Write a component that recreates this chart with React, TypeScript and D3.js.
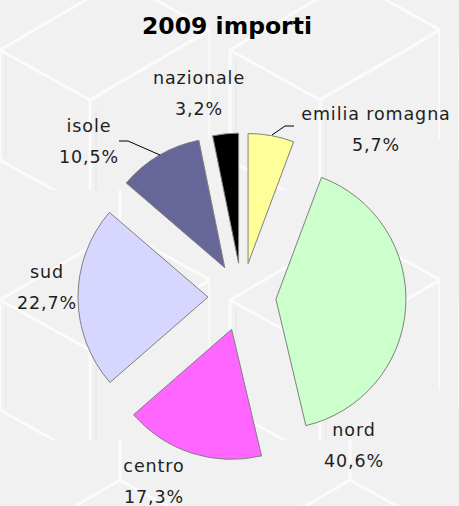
import React from "react";
import * as d3 from "d3";

const categories = ["emilia romagna", "nord", "centro", "sud", "isole", "nazionale"];
const values = [5.7, 40.6, 17.3, 22.7, 10.5, 3.2];
const percentLabels = ["5,7%", "40,6%", "17,3%", "22,7%", "10,5%", "3,2%"];
const colors = ["#FFFF99", "#CCFFCC", "#FF66FF", "#D6D6FF", "#666699", "#000000"];
const title = "2009 importi";

const W = 459, H = 506;
const cx = 242, cy = 297, R = 130, EXPLODE = 34;
// label centres (layout)
const labelPos: [number, number][] = [
  [376, 126], [354, 442], [154, 478], [47, 284], [89, 138], [199, 90],
];
// leader lines (layout)
const leaders: ([number, number][] | null)[] = [
  [[294, 126], [285, 126], [272, 135]],
  null, null, null,
  [[119, 141], [128, 141], [160, 155]],
  null,
];

export default function App() {
  const pie = d3.pie<number>().sort(null).value((d) => d).startAngle(0).endAngle(2 * Math.PI);
  const arcs = pie(values);
  const arc = d3.arc<d3.PieArcDatum<number>>().innerRadius(0).outerRadius(R);
  const font = "'DejaVu Sans', sans-serif";
  return (
    <svg width={W} height={H} style={{ position: "absolute", left: 0, top: 0 }}>
      <defs>
        <pattern id="cubes" width="230" height="250" patternUnits="userSpaceOnUse" x="-20" y="-60">
          <g fill="none" stroke="#ffffff" strokeWidth="3" strokeLinejoin="round" opacity="0.7">
            <path d="M20,110 L140,40 L230,90 L110,160 Z" />
            <path d="M20,110 L20,220 L110,270 L110,160" />
            <path d="M110,160 L230,90 L230,200" />
            <path d="M140,40 L140,-30" />
          </g>
          <g fill="none" stroke="#e4e4e4" strokeWidth="1.2" opacity="0.8">
            <path d="M26,118 L26,215" />
            <path d="M116,168 L116,262" />
          </g>
        </pattern>
      </defs>
      <rect x={0} y={0} width={W} height={H} fill="#f1f1f1" />
      <rect x={0} y={0} width={W} height={H} fill="url(#cubes)" />
      <text x={227} y={34} textAnchor="middle" fontFamily={font} fontWeight="bold" fontSize={23.5} fill="#000">
        {title}
      </text>
      {arcs.map((a, i) => {
        const mid = (a.startAngle + a.endAngle) / 2;
        const dx = Math.sin(mid) * EXPLODE;
        const dy = -Math.cos(mid) * EXPLODE;
        return (
          <path
            key={categories[i]}
            d={arc(a) || ""}
            transform={`translate(${cx + dx},${cy + dy})`}
            fill={colors[i]}
            stroke="#808080"
            strokeWidth={1}
          />
        );
      })}
      {leaders.map((l, i) =>
        l ? (
          <polyline key={"l" + i} points={l.map((p) => p.join(",")).join(" ")} fill="none" stroke="#000" strokeWidth={1} />
        ) : null
      )}
      {categories.map((c, i) => (
        <g key={"t" + c} fontFamily={font} fontSize={17.5} letterSpacing={0.9} fill="#1e1e1e" textAnchor="middle">
          <text x={labelPos[i][0]} y={labelPos[i][1] - 6}>{c}</text>
          <text x={labelPos[i][0]} y={labelPos[i][1] + 25}>{percentLabels[i]}</text>
        </g>
      ))}
    </svg>
  );
}
